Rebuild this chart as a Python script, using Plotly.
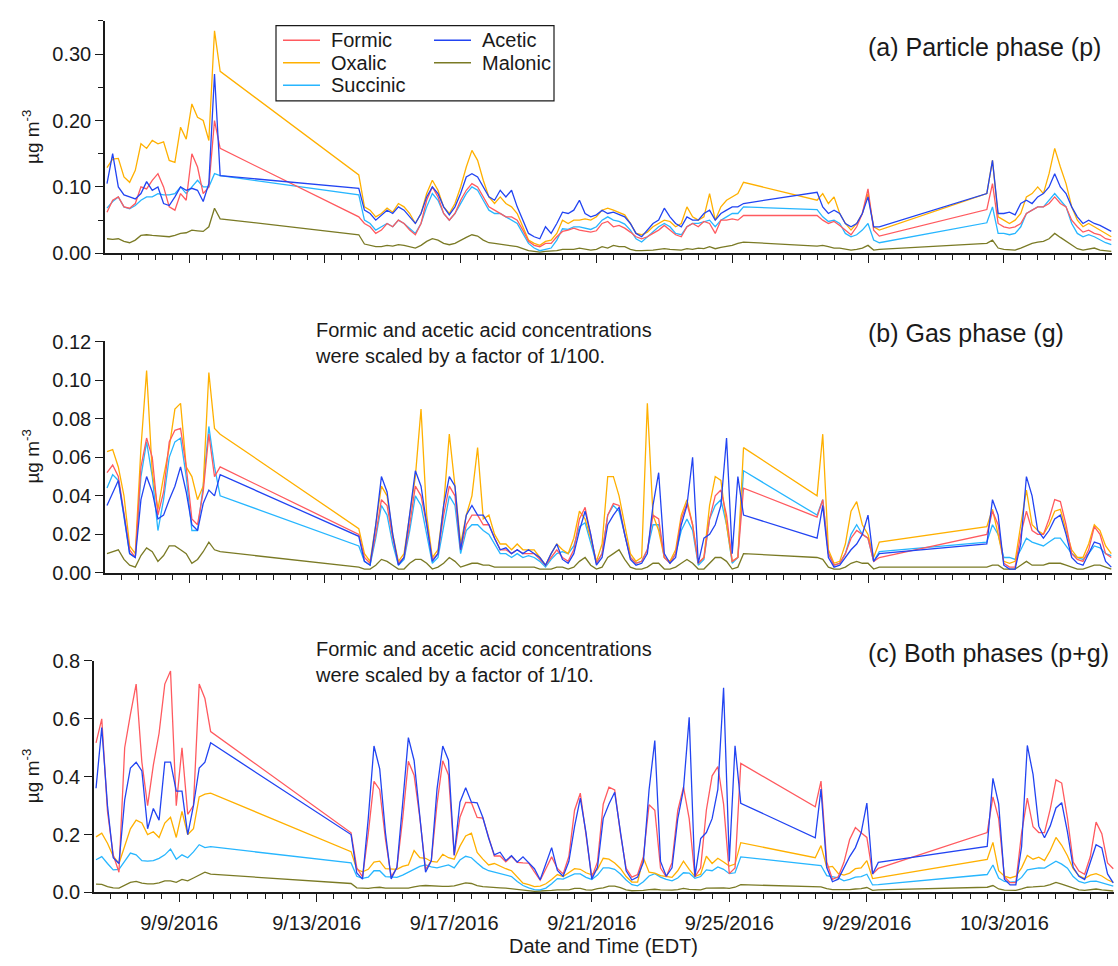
import pandas as pd
import plotly.graph_objects as go

W, H = 1118, 966
FONT = "Liberation Sans, Arial, Helvetica, sans-serif"
INK = "#1a1a1a"

# Four measurement periods, 4-hourly averages (EDT)
periods = [("2016-09-06 14:00", 21), ("2016-09-14 00:00", 69),
           ("2016-09-27 12:00", 12), ("2016-10-02 12:00", 23)]
times = [t.strftime("%Y-%m-%d %H:%M")
         for start, n in periods
         for t in pd.date_range(start, periods=n, freq="4h")]

acids = ["Formic", "Oxalic", "Succinic", "Acetic", "Malonic"]
colors = {"Formic": "#FF5A5F", "Oxalic": "#FFB000", "Succinic": "#27B6FF",
          "Acetic": "#2244F2", "Malonic": "#7A7A25"}

# ---------------- (a) particle phase, ug m-3 ----------------
p_formic = [
    0.062, 0.080, 0.085, 0.070, 0.068, 0.075, 0.100, 0.097, 0.110, 0.120, 0.100, 0.070, 0.065, 0.090, 0.080, 0.150, 0.130, 0.090, 0.100, 0.200, 0.158,
    0.055, 0.045, 0.040, 0.030, 0.035, 0.045, 0.040, 0.050, 0.045, 0.035, 0.028, 0.045, 0.080, 0.100, 0.085, 0.060, 0.050, 0.060, 0.080, 0.095, 0.105, 0.100, 0.085, 0.070, 0.065, 0.060, 0.055, 0.055, 0.050, 0.035, 0.018, 0.012, 0.010, 0.015, 0.015, 0.025,
    0.033, 0.035, 0.038, 0.035, 0.034, 0.032, 0.034, 0.045, 0.048, 0.040, 0.042, 0.038, 0.032, 0.025, 0.022, 0.025, 0.030, 0.035, 0.042, 0.035, 0.028, 0.025, 0.040, 0.045, 0.040, 0.048, 0.045, 0.030, 0.050, 0.050, 0.052, 0.050, 0.057,
    0.057, 0.050, 0.045, 0.048, 0.042, 0.035, 0.028, 0.040, 0.060, 0.097, 0.035, 0.026,
    0.066, 0.105, 0.045, 0.040, 0.038, 0.040, 0.045, 0.060, 0.065, 0.070, 0.070, 0.075, 0.085, 0.075, 0.070, 0.050, 0.040, 0.032, 0.035, 0.030, 0.028, 0.022, 0.020]
p_oxalic = [
    0.129, 0.142, 0.143, 0.115, 0.107, 0.125, 0.165, 0.158, 0.170, 0.165, 0.168, 0.140, 0.137, 0.190, 0.172, 0.225, 0.205, 0.200, 0.170, 0.335, 0.274,
    0.118, 0.070, 0.065, 0.055, 0.060, 0.068, 0.062, 0.075, 0.070, 0.060, 0.045, 0.060, 0.090, 0.110, 0.095, 0.070, 0.060, 0.075, 0.100, 0.130, 0.155, 0.140, 0.110, 0.085, 0.075, 0.085, 0.075, 0.070, 0.060, 0.040, 0.020, 0.015, 0.012, 0.018, 0.020, 0.030,
    0.050, 0.045, 0.050, 0.050, 0.052, 0.050, 0.055, 0.065, 0.068, 0.065, 0.062, 0.058, 0.045, 0.030, 0.028, 0.032, 0.040, 0.045, 0.050, 0.048, 0.040, 0.045, 0.070, 0.055, 0.050, 0.055, 0.090, 0.050, 0.070, 0.080, 0.085, 0.090, 0.107,
    0.080, 0.090, 0.075, 0.085, 0.060, 0.045, 0.035, 0.045, 0.060, 0.090, 0.040, 0.035,
    0.090, 0.140, 0.055, 0.050, 0.045, 0.050, 0.060, 0.085, 0.090, 0.100, 0.090, 0.120, 0.158, 0.130, 0.105, 0.070, 0.050, 0.040, 0.045, 0.040, 0.035, 0.030, 0.025]
p_succinic = [
    0.068, 0.078, 0.085, 0.070, 0.067, 0.072, 0.080, 0.085, 0.085, 0.090, 0.088, 0.088, 0.090, 0.100, 0.090, 0.100, 0.110, 0.100, 0.100, 0.120, 0.117,
    0.088, 0.050, 0.045, 0.035, 0.040, 0.045, 0.040, 0.050, 0.045, 0.038, 0.030, 0.045, 0.070, 0.090, 0.080, 0.060, 0.050, 0.060, 0.075, 0.090, 0.100, 0.095, 0.080, 0.065, 0.060, 0.060, 0.055, 0.050, 0.045, 0.030, 0.015, 0.008, 0.004, 0.006, 0.008, 0.020,
    0.037, 0.036, 0.040, 0.040, 0.038, 0.036, 0.040, 0.050, 0.055, 0.050, 0.048, 0.044, 0.035, 0.022, 0.017, 0.025, 0.032, 0.040, 0.045, 0.040, 0.030, 0.028, 0.040, 0.045, 0.045, 0.048, 0.050, 0.040, 0.050, 0.055, 0.060, 0.060, 0.070,
    0.066, 0.055, 0.048, 0.050, 0.045, 0.030, 0.025, 0.028, 0.035, 0.045, 0.020, 0.016,
    0.046, 0.070, 0.030, 0.030, 0.028, 0.030, 0.040, 0.060, 0.065, 0.070, 0.070, 0.080, 0.090, 0.080, 0.070, 0.045, 0.030, 0.025, 0.028, 0.025, 0.020, 0.016, 0.013]
p_acetic = [
    0.105, 0.150, 0.100, 0.088, 0.085, 0.082, 0.090, 0.108, 0.095, 0.100, 0.075, 0.072, 0.085, 0.100, 0.095, 0.098, 0.095, 0.078, 0.105, 0.270, 0.117,
    0.098, 0.065, 0.060, 0.050, 0.058, 0.065, 0.060, 0.070, 0.065, 0.055, 0.045, 0.060, 0.085, 0.100, 0.090, 0.070, 0.058, 0.070, 0.090, 0.115, 0.120, 0.115, 0.100, 0.085, 0.080, 0.095, 0.085, 0.095, 0.070, 0.050, 0.030, 0.025, 0.022, 0.040, 0.030, 0.045,
    0.062, 0.060, 0.065, 0.080, 0.060, 0.055, 0.058, 0.065, 0.060, 0.062, 0.058, 0.055, 0.045, 0.030, 0.025, 0.035, 0.045, 0.050, 0.068, 0.055, 0.045, 0.040, 0.055, 0.050, 0.050, 0.060, 0.065, 0.050, 0.060, 0.065, 0.070, 0.070, 0.075,
    0.092, 0.070, 0.060, 0.065, 0.060, 0.045, 0.040, 0.045, 0.060, 0.085, 0.040, 0.040,
    0.090, 0.140, 0.060, 0.060, 0.062, 0.058, 0.075, 0.080, 0.075, 0.085, 0.090, 0.100, 0.120, 0.100, 0.090, 0.070, 0.055, 0.045, 0.050, 0.045, 0.042, 0.038, 0.033]
p_malonic = [
    0.022, 0.021, 0.022, 0.018, 0.016, 0.020, 0.027, 0.028, 0.027, 0.026, 0.026, 0.025, 0.027, 0.030, 0.031, 0.035, 0.034, 0.033, 0.040, 0.068, 0.052,
    0.028, 0.014, 0.012, 0.010, 0.010, 0.012, 0.011, 0.013, 0.012, 0.010, 0.008, 0.012, 0.018, 0.022, 0.020, 0.015, 0.013, 0.015, 0.020, 0.024, 0.028, 0.026, 0.020, 0.016, 0.015, 0.014, 0.013, 0.012, 0.010, 0.007, 0.004, 0.003, 0.002, 0.003, 0.003, 0.004,
    0.006, 0.006, 0.006, 0.008, 0.006, 0.005, 0.006, 0.010, 0.008, 0.012, 0.010, 0.010, 0.006, 0.004, 0.004, 0.004, 0.005, 0.006, 0.007, 0.006, 0.005, 0.005, 0.007, 0.006, 0.008, 0.007, 0.010, 0.007, 0.009, 0.010, 0.012, 0.015, 0.017,
    0.011, 0.012, 0.010, 0.008, 0.008, 0.006, 0.005, 0.006, 0.008, 0.012, 0.005, 0.006,
    0.015, 0.020, 0.008, 0.006, 0.005, 0.005, 0.008, 0.012, 0.015, 0.017, 0.018, 0.022, 0.030, 0.024, 0.018, 0.012, 0.007, 0.005, 0.006, 0.008, 0.005, 0.004, 0.003]

# ---------------- (b) gas phase, ug m-3 (formic, acetic x 1/100) ----------------
g_formic = [
    0.052, 0.056, 0.050, 0.030, 0.012, 0.008, 0.055, 0.070, 0.060, 0.030, 0.042, 0.068, 0.074, 0.075, 0.055, 0.028, 0.025, 0.042, 0.072, 0.050, 0.055,
    0.020, 0.008, 0.005, 0.020, 0.038, 0.035, 0.018, 0.005, 0.008, 0.025, 0.045, 0.040, 0.025, 0.007, 0.010, 0.030, 0.045, 0.040, 0.012, 0.025, 0.030, 0.030, 0.025, 0.025, 0.018, 0.012, 0.012, 0.010, 0.012, 0.010, 0.010, 0.010, 0.007, 0.004, 0.008, 0.012,
    0.008, 0.006, 0.012, 0.028, 0.034, 0.020, 0.005, 0.010, 0.030, 0.036, 0.035, 0.020, 0.008, 0.005, 0.006, 0.012, 0.030, 0.028, 0.008, 0.005, 0.010, 0.028, 0.036, 0.025, 0.005, 0.008, 0.028, 0.040, 0.043, 0.030, 0.006, 0.008, 0.044,
    0.029, 0.038, 0.010, 0.004, 0.005, 0.010, 0.018, 0.022, 0.020, 0.018, 0.006, 0.008,
    0.020, 0.032, 0.025, 0.005, 0.003, 0.003, 0.020, 0.032, 0.022, 0.020, 0.020, 0.028, 0.038, 0.037, 0.025, 0.010, 0.007, 0.006, 0.012, 0.024, 0.020, 0.010, 0.008]
g_oxalic = [
    0.063, 0.064, 0.055, 0.040, 0.014, 0.010, 0.065, 0.105, 0.052, 0.033, 0.050, 0.065, 0.085, 0.088, 0.055, 0.050, 0.038, 0.045, 0.104, 0.075, 0.072,
    0.023, 0.010, 0.006, 0.025, 0.045, 0.040, 0.020, 0.006, 0.010, 0.030, 0.050, 0.085, 0.030, 0.008, 0.012, 0.035, 0.072, 0.045, 0.015, 0.030, 0.040, 0.065, 0.028, 0.030, 0.020, 0.015, 0.015, 0.012, 0.015, 0.012, 0.012, 0.012, 0.008, 0.004, 0.010, 0.015,
    0.012, 0.010, 0.018, 0.032, 0.028, 0.018, 0.006, 0.015, 0.050, 0.050, 0.040, 0.025, 0.010, 0.006, 0.008, 0.088, 0.030, 0.022, 0.008, 0.006, 0.012, 0.030, 0.038, 0.025, 0.005, 0.008, 0.035, 0.050, 0.048, 0.025, 0.006, 0.008, 0.065,
    0.040, 0.072, 0.012, 0.005, 0.006, 0.015, 0.032, 0.037, 0.025, 0.020, 0.008, 0.016,
    0.024, 0.033, 0.020, 0.006, 0.005, 0.006, 0.025, 0.043, 0.025, 0.022, 0.020, 0.025, 0.032, 0.033, 0.022, 0.012, 0.008, 0.008, 0.015, 0.025, 0.022, 0.014, 0.010]
g_succinic = [
    0.044, 0.051, 0.048, 0.030, 0.010, 0.008, 0.050, 0.068, 0.050, 0.022, 0.038, 0.060, 0.068, 0.070, 0.050, 0.022, 0.022, 0.045, 0.076, 0.055, 0.040,
    0.014, 0.006, 0.004, 0.018, 0.035, 0.030, 0.015, 0.004, 0.007, 0.022, 0.040, 0.035, 0.020, 0.005, 0.008, 0.025, 0.040, 0.035, 0.010, 0.022, 0.025, 0.025, 0.022, 0.020, 0.015, 0.010, 0.010, 0.008, 0.010, 0.008, 0.009, 0.008, 0.006, 0.003, 0.007, 0.010,
    0.011, 0.010, 0.014, 0.024, 0.026, 0.016, 0.005, 0.010, 0.030, 0.035, 0.032, 0.020, 0.008, 0.005, 0.006, 0.012, 0.025, 0.025, 0.008, 0.005, 0.010, 0.022, 0.028, 0.022, 0.004, 0.007, 0.028, 0.035, 0.038, 0.025, 0.005, 0.008, 0.053,
    0.030, 0.038, 0.010, 0.004, 0.005, 0.010, 0.020, 0.025, 0.020, 0.018, 0.006, 0.011,
    0.016, 0.025, 0.020, 0.008, 0.008, 0.007, 0.012, 0.018, 0.016, 0.015, 0.014, 0.016, 0.018, 0.018, 0.014, 0.010, 0.008, 0.007, 0.010, 0.014, 0.013, 0.010, 0.009]
g_acetic = [
    0.035, 0.042, 0.048, 0.030, 0.010, 0.008, 0.038, 0.050, 0.042, 0.028, 0.030, 0.038, 0.045, 0.055, 0.042, 0.025, 0.022, 0.036, 0.043, 0.040, 0.051,
    0.019, 0.006, 0.004, 0.025, 0.050, 0.042, 0.020, 0.004, 0.008, 0.030, 0.053, 0.045, 0.025, 0.006, 0.010, 0.035, 0.050, 0.045, 0.012, 0.030, 0.035, 0.030, 0.030, 0.025, 0.018, 0.012, 0.013, 0.010, 0.012, 0.010, 0.012, 0.010, 0.008, 0.004, 0.010, 0.015,
    0.007, 0.005, 0.010, 0.022, 0.032, 0.020, 0.004, 0.008, 0.025, 0.030, 0.034, 0.020, 0.007, 0.004, 0.005, 0.010, 0.035, 0.052, 0.010, 0.005, 0.008, 0.025, 0.035, 0.060, 0.005, 0.018, 0.020, 0.025, 0.035, 0.070, 0.010, 0.050, 0.030,
    0.018, 0.035, 0.008, 0.003, 0.004, 0.008, 0.012, 0.015, 0.020, 0.030, 0.006, 0.010,
    0.015, 0.038, 0.030, 0.004, 0.002, 0.002, 0.015, 0.050, 0.040, 0.022, 0.018, 0.022, 0.028, 0.030, 0.020, 0.008, 0.005, 0.004, 0.010, 0.016, 0.015, 0.006, 0.003]
g_malonic = [
    0.010, 0.011, 0.012, 0.007, 0.004, 0.003, 0.009, 0.013, 0.011, 0.006, 0.009, 0.014, 0.014, 0.012, 0.010, 0.005, 0.007, 0.011, 0.016, 0.012, 0.011,
    0.003, 0.002, 0.002, 0.004, 0.007, 0.006, 0.004, 0.002, 0.002, 0.005, 0.007, 0.007, 0.005, 0.002, 0.003, 0.005, 0.008, 0.006, 0.003, 0.004, 0.005, 0.005, 0.004, 0.004, 0.003, 0.003, 0.003, 0.003, 0.003, 0.003, 0.003, 0.003, 0.002, 0.002, 0.002, 0.003,
    0.003, 0.002, 0.003, 0.006, 0.008, 0.004, 0.002, 0.003, 0.008, 0.010, 0.012, 0.007, 0.003, 0.002, 0.002, 0.003, 0.005, 0.005, 0.002, 0.002, 0.003, 0.005, 0.007, 0.005, 0.002, 0.002, 0.005, 0.008, 0.008, 0.006, 0.002, 0.003, 0.010,
    0.008, 0.007, 0.003, 0.002, 0.002, 0.003, 0.005, 0.006, 0.005, 0.005, 0.002, 0.003,
    0.003, 0.004, 0.004, 0.002, 0.002, 0.002, 0.004, 0.006, 0.004, 0.004, 0.004, 0.005, 0.005, 0.005, 0.004, 0.003, 0.002, 0.002, 0.003, 0.004, 0.004, 0.003, 0.002]

# ---------------- (c) both phases, ug m-3 (formic, acetic x 1/10) ----------------
pg_formic = [
    0.517, 0.600, 0.280, 0.130, 0.070, 0.500, 0.615, 0.720, 0.450, 0.300, 0.440, 0.550, 0.720, 0.765, 0.300, 0.500, 0.270, 0.300, 0.720, 0.670, 0.556,
    0.206, 0.085, 0.054, 0.203, 0.384, 0.355, 0.184, 0.055, 0.085, 0.254, 0.453, 0.405, 0.258, 0.080, 0.109, 0.306, 0.455, 0.406, 0.128, 0.260, 0.311, 0.310, 0.259, 0.257, 0.187, 0.126, 0.126, 0.106, 0.125, 0.104, 0.102, 0.101, 0.071, 0.042, 0.082, 0.123,
    0.083, 0.064, 0.124, 0.284, 0.343, 0.203, 0.053, 0.105, 0.305, 0.364, 0.354, 0.204, 0.083, 0.053, 0.062, 0.123, 0.303, 0.284, 0.084, 0.054, 0.103, 0.283, 0.364, 0.255, 0.054, 0.085, 0.285, 0.403, 0.435, 0.305, 0.065, 0.085, 0.446,
    0.296, 0.385, 0.105, 0.045, 0.054, 0.104, 0.183, 0.224, 0.206, 0.190, 0.064, 0.083,
    0.207, 0.330, 0.255, 0.054, 0.034, 0.034, 0.205, 0.326, 0.227, 0.207, 0.207, 0.288, 0.389, 0.378, 0.257, 0.105, 0.074, 0.063, 0.124, 0.243, 0.203, 0.102, 0.082]
pg_oxalic = [
    0.192, 0.205, 0.170, 0.125, 0.100, 0.160, 0.220, 0.250, 0.240, 0.200, 0.210, 0.190, 0.240, 0.260, 0.190, 0.280, 0.200, 0.220, 0.330, 0.340, 0.343,
    0.141, 0.080, 0.071, 0.080, 0.105, 0.108, 0.082, 0.081, 0.080, 0.090, 0.095, 0.145, 0.120, 0.118, 0.107, 0.105, 0.132, 0.120, 0.115, 0.160, 0.195, 0.205, 0.138, 0.115, 0.095, 0.100, 0.090, 0.082, 0.075, 0.052, 0.032, 0.027, 0.020, 0.022, 0.030, 0.045,
    0.062, 0.055, 0.068, 0.082, 0.080, 0.068, 0.061, 0.080, 0.118, 0.115, 0.102, 0.083, 0.055, 0.036, 0.036, 0.120, 0.070, 0.067, 0.058, 0.054, 0.052, 0.075, 0.108, 0.080, 0.055, 0.063, 0.125, 0.100, 0.118, 0.105, 0.091, 0.098, 0.172,
    0.120, 0.162, 0.087, 0.090, 0.066, 0.060, 0.067, 0.082, 0.085, 0.110, 0.048, 0.051,
    0.114, 0.173, 0.075, 0.056, 0.050, 0.056, 0.085, 0.128, 0.115, 0.122, 0.110, 0.145, 0.190, 0.163, 0.127, 0.082, 0.058, 0.048, 0.060, 0.065, 0.057, 0.044, 0.035]
pg_succinic = [
    0.113, 0.124, 0.100, 0.078, 0.080, 0.110, 0.136, 0.130, 0.110, 0.108, 0.110, 0.118, 0.130, 0.150, 0.115, 0.130, 0.120, 0.140, 0.165, 0.155, 0.158,
    0.102, 0.056, 0.049, 0.053, 0.075, 0.075, 0.055, 0.054, 0.052, 0.060, 0.070, 0.080, 0.090, 0.095, 0.088, 0.085, 0.090, 0.095, 0.085, 0.112, 0.125, 0.120, 0.102, 0.085, 0.075, 0.070, 0.065, 0.058, 0.055, 0.038, 0.024, 0.016, 0.010, 0.009, 0.015, 0.030,
    0.048, 0.046, 0.054, 0.064, 0.064, 0.052, 0.045, 0.060, 0.085, 0.085, 0.080, 0.064, 0.043, 0.027, 0.023, 0.037, 0.057, 0.065, 0.053, 0.045, 0.040, 0.050, 0.068, 0.067, 0.049, 0.055, 0.078, 0.075, 0.088, 0.080, 0.065, 0.068, 0.123,
    0.096, 0.093, 0.058, 0.054, 0.050, 0.040, 0.045, 0.053, 0.055, 0.063, 0.026, 0.027,
    0.062, 0.095, 0.050, 0.038, 0.036, 0.037, 0.052, 0.078, 0.081, 0.085, 0.084, 0.096, 0.108, 0.098, 0.084, 0.055, 0.038, 0.032, 0.038, 0.039, 0.033, 0.026, 0.022]
pg_acetic = [
    0.360, 0.570, 0.300, 0.120, 0.100, 0.320, 0.430, 0.450, 0.420, 0.220, 0.290, 0.250, 0.450, 0.450, 0.350, 0.350, 0.200, 0.300, 0.430, 0.450, 0.517,
    0.200, 0.067, 0.046, 0.255, 0.506, 0.427, 0.206, 0.047, 0.087, 0.306, 0.535, 0.456, 0.259, 0.070, 0.109, 0.357, 0.506, 0.457, 0.129, 0.312, 0.362, 0.312, 0.310, 0.259, 0.188, 0.130, 0.139, 0.110, 0.127, 0.105, 0.123, 0.103, 0.082, 0.044, 0.103, 0.155,
    0.076, 0.056, 0.107, 0.228, 0.326, 0.206, 0.046, 0.087, 0.256, 0.306, 0.346, 0.206, 0.075, 0.043, 0.053, 0.104, 0.355, 0.525, 0.107, 0.056, 0.085, 0.254, 0.356, 0.605, 0.055, 0.186, 0.207, 0.255, 0.356, 0.707, 0.107, 0.507, 0.308,
    0.189, 0.357, 0.086, 0.037, 0.046, 0.085, 0.124, 0.155, 0.206, 0.309, 0.064, 0.104,
    0.159, 0.394, 0.306, 0.046, 0.026, 0.026, 0.158, 0.508, 0.408, 0.229, 0.189, 0.230, 0.292, 0.310, 0.209, 0.087, 0.056, 0.045, 0.105, 0.165, 0.154, 0.064, 0.033]
pg_malonic = [
    0.029, 0.028, 0.020, 0.016, 0.015, 0.025, 0.035, 0.038, 0.032, 0.030, 0.030, 0.033, 0.040, 0.040, 0.035, 0.045, 0.040, 0.050, 0.060, 0.070, 0.063,
    0.031, 0.016, 0.014, 0.014, 0.017, 0.018, 0.015, 0.015, 0.014, 0.015, 0.015, 0.019, 0.023, 0.024, 0.023, 0.020, 0.021, 0.021, 0.023, 0.028, 0.033, 0.031, 0.024, 0.020, 0.018, 0.017, 0.016, 0.015, 0.013, 0.010, 0.007, 0.006, 0.004, 0.005, 0.005, 0.007,
    0.009, 0.008, 0.009, 0.014, 0.014, 0.009, 0.008, 0.013, 0.016, 0.022, 0.022, 0.017, 0.009, 0.006, 0.006, 0.007, 0.010, 0.011, 0.009, 0.008, 0.008, 0.010, 0.014, 0.011, 0.010, 0.009, 0.015, 0.015, 0.017, 0.016, 0.014, 0.018, 0.027,
    0.019, 0.019, 0.013, 0.010, 0.010, 0.009, 0.010, 0.012, 0.013, 0.017, 0.007, 0.009,
    0.018, 0.024, 0.012, 0.008, 0.007, 0.007, 0.012, 0.018, 0.019, 0.021, 0.022, 0.027, 0.035, 0.029, 0.022, 0.015, 0.009, 0.007, 0.009, 0.012, 0.009, 0.007, 0.005]

panels = [
    dict(xa="x", ya="y", data={"Formic": p_formic, "Oxalic": p_oxalic, "Succinic": p_succinic,
                               "Acetic": p_acetic, "Malonic": p_malonic}),
    dict(xa="x2", ya="y2", data={"Formic": g_formic, "Oxalic": g_oxalic, "Succinic": g_succinic,
                                 "Acetic": g_acetic, "Malonic": g_malonic}),
    dict(xa="x3", ya="y3", data={"Formic": pg_formic, "Oxalic": pg_oxalic, "Succinic": pg_succinic,
                                 "Acetic": pg_acetic, "Malonic": pg_malonic}),
]
for panel in panels:
    for name, vals in panel["data"].items():
        assert len(vals) == len(times), (name, len(vals))

draw_order = ["Malonic", "Succinic", "Oxalic", "Formic", "Acetic"]

fig = go.Figure()
for panel in panels:
    for acid in draw_order:
        fig.add_trace(go.Scatter(
            x=times, y=panel["data"][acid], mode="lines", name=acid,
            xaxis=panel["xa"], yaxis=panel["ya"], showlegend=False,
            line=dict(color=colors[acid], width=1.3), hoverinfo="skip"))


def fx(px):
    return px / W


def fy(py):
    return 1 - py / H


x_range = ["2016-09-06 12:35", "2016-10-06 04:30"]
DAY = 86400000


def x_axis(domain, anchor, labels):
    return dict(
        domain=domain, anchor=anchor, type="date", range=x_range,
        showgrid=False, zeroline=False, showline=True, linecolor=INK, linewidth=1.5,
        ticks="outside", ticklen=8, tickwidth=1.3, tickcolor=INK,
        tick0="2016-09-09", dtick=4 * DAY, tickformat="%-m/%-d/%Y",
        showticklabels=labels, ticklabelstandoff=4,
        tickfont=dict(family=FONT, size=20, color=INK),
        minor=dict(ticks="outside", ticklen=5, tickwidth=1.1, tickcolor=INK,
                   tick0="2016-09-09", dtick=DAY / 2, showgrid=False))


def y_axis(domain, anchor, top, dtick, fmt, minor=None):
    ax = dict(
        domain=domain, anchor=anchor, range=[0, top],
        showgrid=False, zeroline=False, showline=True, linecolor=INK, linewidth=1.5,
        ticks="outside", ticklen=8, tickwidth=1.3, tickcolor=INK,
        tick0=0, dtick=dtick, tickformat=fmt,
        tickfont=dict(family=FONT, size=20, color=INK))
    if minor:
        ax["minor"] = dict(ticks="outside", ticklen=5, tickwidth=1.1, tickcolor=INK,
                           tick0=0, dtick=minor, showgrid=False)
    return ax


fig.update_layout(
    width=W, height=H, autosize=False,
    margin=dict(l=0, r=0, t=0, b=0),
    paper_bgcolor="white", plot_bgcolor="white",
    font=dict(family=FONT, color=INK),
    xaxis=x_axis([fx(105), fx(1112)], "y", False),
    xaxis2=x_axis([fx(105), fx(1112)], "y2", False),
    xaxis3=x_axis([fx(94), fx(1114)], "y3", True),
    yaxis=y_axis([fy(248), fy(10)], "x", 0.3502, 0.1, ".2f", minor=0.05),
    yaxis2=y_axis([fy(575), fy(338)], "x2", 0.1202, 0.02, ".2f"),
    yaxis3=y_axis([fy(902), fy(665)], "x3", 0.8002, 0.2, ".1f"),
)

annotations = []


def label(text, x, y, size, xanchor="left", angle=0):
    annotations.append(dict(
        text=text, x=fx(x), y=fy(y), xref="paper", yref="paper",
        xanchor=xanchor, yanchor="middle", showarrow=False, textangle=angle,
        font=dict(family=FONT, size=size, color=INK), align="left"))


label("(a) Particle phase (p)", 866, 37, 25)
label("(b) Gas phase (g)", 866, 330, 25)
label("(c) Both phases (p+g)", 866, 657, 25)
label("Formic and acetic acid concentrations<br>were scaled by a factor of 1/100.", 313, 340, 20)
label("Formic and acetic acid concentrations<br>were scaled by a factor of 1/10.", 313, 666, 20)
for yc in (129, 456, 783):
    label("µg m<sup>-3</sup>", 31, yc, 19, xanchor="center", angle=-90)
label("Date and Time (EDT)", 603, 957, 20, xanchor="center")

# legend box drawn in paper coordinates
shapes = [dict(type="rect", xref="paper", yref="paper",
               x0=fx(276), x1=fx(554), y0=fy(92), y1=fy(15),
               line=dict(color=INK, width=1.2), fillcolor="white", layer="above")]
legend_items = [("Formic", 283, 30), ("Oxalic", 283, 53), ("Succinic", 283, 76),
                ("Acetic", 434, 30), ("Malonic", 434, 53)]
for name, x0, yc in legend_items:
    shapes.append(dict(type="line", xref="paper", yref="paper",
                       x0=fx(x0), x1=fx(x0 + 37), y0=fy(yc), y1=fy(yc),
                       line=dict(color=colors[name], width=1.6), layer="above"))
    label(name, x0 + 46, yc, 20)

fig.update_layout(annotations=annotations, shapes=shapes)
fig.write_html("out.html")
